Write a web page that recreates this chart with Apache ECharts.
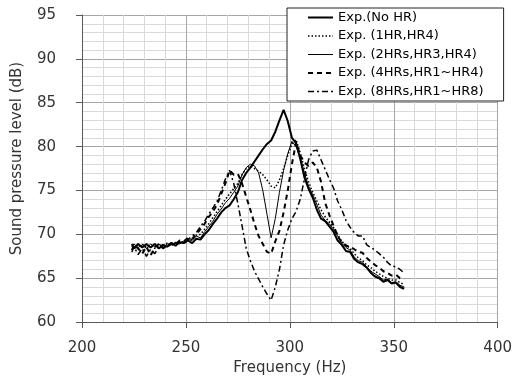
<!DOCTYPE html>
<html>
<head>
<meta charset="utf-8">
<script src="https://cdn.jsdelivr.net/npm/echarts@6/dist/echarts.min.js"></script>
<style>
html,body{margin:0;padding:0;background:#fff;}
#chart{width:515px;height:381px;}
</style>
</head>
<body>
<div id="chart"></div>
<script>
// Frequency (Hz)
var freq = [224,225,227,229,231,233,235,237,239,241,243,245,247,249,
  251,253,255,257,259,261,263,265,267,269,271,273,275,277,279,281,283,285,287,289,291,293,295,297,299,301,
  303,305,307,309,311,313,315,317,319,321,323,325,327,329,331,333,335,337,339,341,343,345,347,349,351,353,355];

var seriesNames = ['Exp.(No HR)', 'Exp. (1HR,HR4)', 'Exp. (2HRs,HR3,HR4)', 'Exp. (4HRs,HR1~HR4)', 'Exp. (8HRs,HR1~HR8)'];

var noHR = [68.9,68.4,68.9,68.5,68.9,68.5,68.9,68.4,68.8,68.6,69.0,68.7,69.1,69.0,
  69.3,69.0,69.5,69.4,70.0,70.5,71.2,71.8,72.5,73.0,73.3,74.0,74.8,76.2,77.0,77.6,78.3,79.0,79.7,80.3,80.7,81.7,83.0,84.2,82.9,81.0,
  80.4,78.6,76.5,75.2,74.2,72.8,71.8,71.5,70.9,70.3,69.3,68.8,68.1,68.0,67.2,66.8,66.6,66.2,65.6,65.2,65.0,64.6,64.8,64.4,64.5,64.0,63.8];

var hr1 = [68.7,68.6,68.3,68.9,68.5,68.7,68.4,68.8,68.7,69.0,68.7,69.0,69.2,69.1,
  69.5,69.4,69.9,70.0,70.6,71.2,71.9,72.6,73.3,74.0,74.6,75.2,75.8,76.8,77.5,77.8,77.5,77.2,76.8,76.2,75.5,75.3,76.2,77.5,79.0,80.3,
  80.8,79.3,77.5,76.0,74.8,73.8,72.8,72.0,71.4,70.8,70.0,69.2,68.8,68.4,67.8,67.3,67.0,66.5,66.2,65.8,65.5,65.2,65.0,64.8,64.8,64.5,64.3];

var hr2 = [68.6,68.9,68.5,68.8,68.4,68.9,68.6,68.9,68.5,68.9,68.8,69.1,68.9,69.2,
  69.4,69.3,69.8,69.6,70.3,70.9,71.5,72.3,72.9,73.6,74.1,74.8,75.5,76.8,77.6,78.0,77.8,77.0,75.0,72.3,69.6,71.8,74.8,77.3,79.2,80.6,
  80.0,78.8,77.0,75.5,74.5,73.4,72.2,71.6,71.2,70.6,69.8,69.0,68.5,68.2,67.4,67.0,66.8,66.3,65.8,65.5,65.2,64.8,64.9,64.5,64.6,64.2,64.0];

var hr4 = [68.2,68.8,68.4,67.8,68.6,67.6,68.5,68.9,68.4,68.8,69.0,68.8,69.3,69.2,
  69.6,69.5,70.0,70.6,71.2,72.0,72.6,73.4,74.6,75.8,77.3,76.8,76.9,75.8,74.3,72.8,71.2,69.8,68.9,68.0,67.8,69.2,70.4,72.5,75.0,78.0,
  80.5,79.0,78.2,77.8,78.2,77.6,76.0,73.6,72.2,71.0,69.8,69.1,68.7,68.6,68.3,68.0,67.9,67.3,66.9,66.5,66.2,65.8,65.6,65.3,65.4,65.0,64.9];

var hr8 = [68.0,68.6,67.7,68.4,67.5,68.3,67.8,68.6,68.8,68.5,68.9,69.0,69.2,69.0,
  69.4,69.8,70.2,70.9,71.5,72.3,73.0,73.8,75.0,76.3,77.3,75.8,73.5,71.0,68.4,67.0,65.8,64.9,64.0,63.2,62.5,64.0,66.0,68.8,70.5,71.8,
  72.6,74.0,76.3,78.5,79.5,79.6,78.5,77.4,76.3,75.3,73.8,72.8,71.6,70.8,70.2,69.8,69.8,68.8,68.5,68.2,67.8,67.4,66.8,66.4,66.3,66.0,65.6];

var xTicks = [200, 250, 300, 350, 400];
var yTicks = [60, 65, 70, 75, 80, 85, 90, 95];

var FONT = 'DejaVu Sans';
function pairs(arr) { return freq.map(function (f, i) { return [f, arr[i]]; }); }

var styles = [
  {width: 2, type: 'solid'},
  {width: 1.5, type: [1.5, 2]},
  {width: 1, type: 'solid'},
  {width: 2, type: [5, 4]},
  {width: 1.5, type: [6, 3, 2, 3]}
];
var dataSets = [noHR, hr1, hr2, hr4, hr8];

var chart = echarts.init(document.getElementById('chart'), null, {renderer: 'canvas'});
chart.setOption({
  animation: false,
  backgroundColor: '#fff',
  textStyle: {fontFamily: FONT},
  grid: {left: 82, right: 11, top: 15, bottom: 57, containLabel: false},
  xAxis: {
    type: 'value', min: xTicks[0], max: xTicks[xTicks.length - 1], interval: 50,
    name: 'Frequency (Hz)', nameLocation: 'middle', nameGap: 35,
    nameTextStyle: {fontSize: 15, color: '#333', fontFamily: FONT},
    axisLine: {show: true, onZero: false, lineStyle: {color: '#595959', width: 1}},
    axisTick: {show: true, length: 6, lineStyle: {color: '#595959'}},
    axisLabel: {fontSize: 15, color: '#333', margin: 19, fontFamily: FONT},
    splitLine: {show: true, lineStyle: {color: '#a6a6a6', width: 1}},
    minorTick: {show: false, splitNumber: 5},
    minorSplitLine: {show: true, lineStyle: {color: '#dadada', width: 1}}
  },
  yAxis: {
    type: 'value', min: yTicks[0], max: yTicks[yTicks.length - 1], interval: 5,
    name: 'Sound pressure level (dB)', nameLocation: 'middle', nameGap: 57,
    nameTextStyle: {fontSize: 15, color: '#333', fontFamily: FONT, padding: [0, 0, 0, 20]},
    axisLine: {show: true, onZero: false, lineStyle: {color: '#595959', width: 1}},
    axisTick: {show: true, length: 6, lineStyle: {color: '#595959'}},
    axisLabel: {fontSize: 15, color: '#333', margin: 26, fontFamily: FONT},
    splitLine: {show: true, lineStyle: {color: '#a6a6a6', width: 1}},
    minorTick: {show: false, splitNumber: 5},
    minorSplitLine: {show: true, lineStyle: {color: '#dadada', width: 1}}
  },
  legend: {
    show: true, orient: 'vertical', left: 287, top: 8,
    padding: [3, 20, 3, 20], itemWidth: 25, itemHeight: 14, itemGap: 5.5,
    backgroundColor: '#fff', borderColor: '#222', borderWidth: 1, borderRadius: 0,
    textStyle: {fontSize: 13, color: '#000', fontFamily: FONT},
    itemStyle: {color: 'rgba(0,0,0,0)', borderWidth: 0, opacity: 0},
    data: seriesNames.map(function (n, i) {
      return {name: n, lineStyle: {color: '#000', width: styles[i].width, type: styles[i].type}};
    })
  },
  series: dataSets.map(function (arr, i) {
    return {
      name: seriesNames[i], type: 'line', data: pairs(arr),
      symbol: 'none', showSymbol: false, smooth: false,
      lineStyle: {color: '#000', width: styles[i].width, type: styles[i].type},
      itemStyle: {color: 'rgba(0,0,0,0)', borderWidth: 0},
      emphasis: {disabled: true}
    };
  })
});
</script>
</body>
</html>
